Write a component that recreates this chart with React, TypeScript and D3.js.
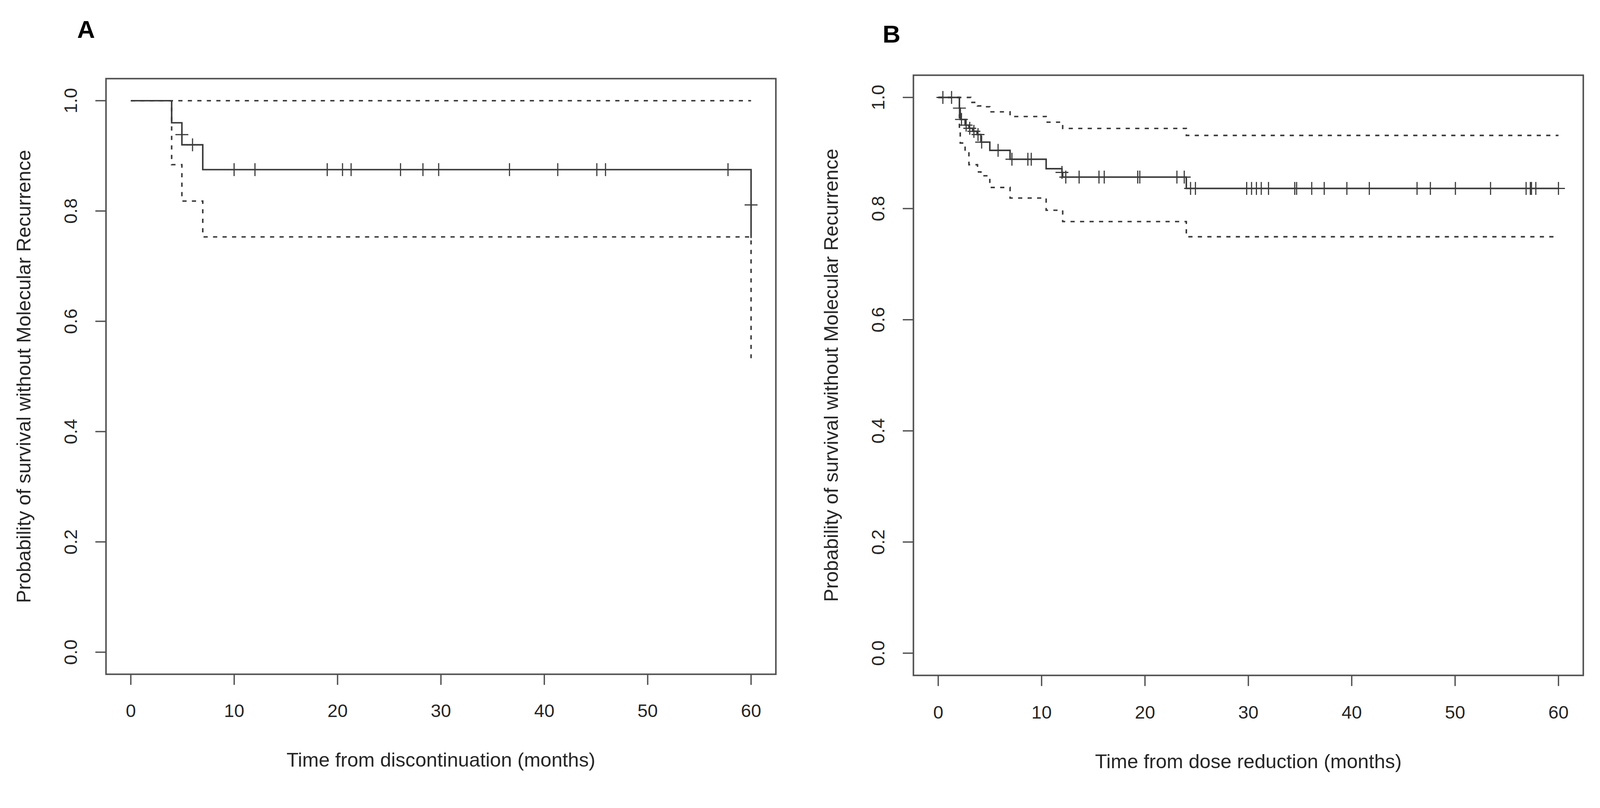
import React, { useEffect } from 'react';
import * as d3 from 'd3';

// Kaplan-Meier readings taken from the two panels
const xTicks = [0, 10, 20, 30, 40, 50, 60];
const yTicks = [0, 0.2, 0.4, 0.6, 0.8, 1.0];
const yTickLabels = ['0.0', '0.2', '0.4', '0.6', '0.8', '1.0'];

// Panel A: discontinuation
const timesA = [0, 3.95, 4.94, 6.96, 60];
const survA = [1, 0.96, 0.92, 0.875, 0.751];
const upperTimesA = [0, 60];
const upperA = [1, 1];
const lowerTimesA = [0, 3.95, 4.94, 6.96, 60];
const lowerA = [1, 0.884, 0.818, 0.753, 0.533];
const censorTimesA = [4.94, 5.97, 9.99, 12.01, 19.0, 20.48, 21.31, 26.09, 28.26, 29.78, 36.63, 41.3, 45.08, 45.92, 57.77, 60.0];
const censorSurvA = [0.9385, 0.92, 0.875, 0.875, 0.875, 0.875, 0.875, 0.875, 0.875, 0.875, 0.875, 0.875, 0.875, 0.875, 0.875, 0.811];

// Panel B: dose reduction
const timesB = [0, 2.05, 2.13, 2.6, 2.97, 3.33, 3.76, 4.13, 4.99, 6.95, 10.44, 11.97, 12.04, 24.0];
const survB = [1, 0.9808, 0.9604, 0.9502, 0.9445, 0.939, 0.9332, 0.9196, 0.9048, 0.8888, 0.8718, 0.8651, 0.8567, 0.8363];
const upperTimesB = [0, 3.15, 3.8, 4.4, 4.99, 6.95, 10.44, 12.04, 24.0];
const upperB = [1, 0.991, 0.9847, 0.9832, 0.9741, 0.9657, 0.9555, 0.9442, 0.9317];
const lowerTimesB = [0, 2.05, 2.13, 2.6, 2.97, 3.8, 4.13, 4.99, 6.95, 10.44, 12.04, 24.0];
const lowerB = [1, 0.94, 0.918, 0.902, 0.879, 0.866, 0.859, 0.838, 0.819, 0.797, 0.7766, 0.7493];
const censorTimesB = [0.45, 1.29, 2.05, 2.25, 2.7, 3.05, 3.45, 3.85, 4.2, 5.79, 7.13, 8.67, 9.0, 11.97, 12.34, 13.63,
  15.55, 16.06, 19.3, 19.5, 23.09, 23.8, 24.41, 24.88, 29.84, 30.31, 30.78, 31.25, 31.95, 34.49, 34.67, 36.13,
  37.34, 39.53, 41.7, 46.32, 47.61, 50.03, 53.43, 56.87, 57.28, 57.39, 57.81, 60.0];

const W = 4211;
const H = 2069;
const FONT = '"Liberation Sans", Arial, Helvetica, sans-serif';
const LINE = '#3a3a3a';
const BOX = '#505050';
const TEXT = '#262626';
const DASH = '11,14';

type Box = { x: number; y: number; w: number; h: number };

const stepAt = (times: number[], vals: number[], t: number) => {
  let v = vals[0];
  times.forEach((tt, i) => { if (tt <= t + 1e-9) v = vals[i]; });
  return v;
};

const toPoints = (times: number[], vals: number[], end: number): [number, number][] => {
  const pts: [number, number][] = times.map((t, i) => [t, vals[i]]);
  if (times[times.length - 1] < end) pts.push([end, vals[vals.length - 1]]);
  return pts;
};

interface PanelProps {
  box: Box;
  letter: string;
  letterPos: [number, number];
  xTitle: string;
  tickOffset: number;
  titleOffset: number;
  surv: [number[], number[]];
  upper: [number[], number[]];
  lower: [number[], number[]];
  censorT: number[];
  censorV: number[];
}

const Panel: React.FC<PanelProps> = ({ box, letter, letterPos, xTitle, tickOffset, titleOffset, surv, upper, lower, censorT, censorV }) => {
  const x = d3.scaleLinear().domain([-2.4, 62.4]).range([box.x, box.x + box.w]);
  const y = d3.scaleLinear().domain([-0.04, 1.04]).range([box.y + box.h, box.y]);
  const line = d3.line<[number, number]>()
    .x(d => x(d[0]))
    .y(d => y(d[1]))
    .curve(d3.curveStepAfter);
  const bottom = box.y + box.h;
  const tick = 28;
  const markHalf = 17;

  return (
    <g>
      <text x={letterPos[0]} y={letterPos[1]} fontFamily={FONT} fontWeight="bold" fontSize={65} fill="#000">{letter}</text>
      <rect x={box.x} y={box.y} width={box.w} height={box.h} fill="none" stroke={BOX} strokeWidth={4} />

      {xTicks.map(t => (
        <g key={'x' + t}>
          <line x1={x(t)} x2={x(t)} y1={bottom} y2={bottom + tick} stroke={BOX} strokeWidth={3.5} />
          <text x={x(t)} y={bottom + tickOffset} textAnchor="middle" fontFamily={FONT} fontSize={48} fill={TEXT}>{t}</text>
        </g>
      ))}
      {yTicks.map((v, i) => (
        <g key={'y' + v}>
          <line x1={box.x - tick} x2={box.x} y1={y(v)} y2={y(v)} stroke={BOX} strokeWidth={3.5} />
          <text x={box.x - 76} y={y(v)} transform={`rotate(-90, ${box.x - 76}, ${y(v)})`} textAnchor="middle"
            fontFamily={FONT} fontSize={48} fill={TEXT}>{yTickLabels[i]}</text>
        </g>
      ))}

      <text x={box.x + box.w / 2} y={bottom + titleOffset} textAnchor="middle" fontFamily={FONT} fontSize={52} fill={TEXT}>{xTitle}</text>
      <text x={box.x - 199} y={box.y + box.h / 2} transform={`rotate(-90, ${box.x - 199}, ${box.y + box.h / 2})`}
        textAnchor="middle" fontFamily={FONT} fontSize={52} fill={TEXT}>
        Probability of survival without Molecular Recurrence
      </text>

      <path d={line(toPoints(upper[0], upper[1], 60)) ?? ''} fill="none" stroke={LINE} strokeWidth={4} strokeDasharray={DASH} />
      <path d={line(toPoints(lower[0], lower[1], 60)) ?? ''} fill="none" stroke={LINE} strokeWidth={4} strokeDasharray={DASH} />
      <path d={line(toPoints(surv[0], surv[1], 60)) ?? ''} fill="none" stroke={LINE} strokeWidth={4} />

      {censorT.map((t, i) => {
        const cx = x(t);
        const cy = y(censorV[i]);
        return (
          <g key={'c' + i} stroke={LINE} strokeWidth={3}>
            <line x1={cx - markHalf} x2={cx + markHalf} y1={cy} y2={cy} />
            <line x1={cx} x2={cx} y1={cy - markHalf} y2={cy + markHalf} />
          </g>
        );
      })}
    </g>
  );
};

export default function App() {
  useEffect(() => {
    document.body.style.margin = '0';
    document.body.style.overflow = 'hidden';
  }, []);

  const boxA: Box = { x: 279, y: 207, w: 1763, h: 1568 };
  const boxB: Box = { x: 2404, y: 198, w: 1763, h: 1580 };
  const censorSurvB = censorTimesB.map(t => stepAt(timesB, survB, t));

  return (
    <svg viewBox={`0 0 ${W} ${H}`} preserveAspectRatio="xMinYMin meet"
      style={{ position: 'fixed', left: 0, top: 0, width: '100vw', height: '100vh', display: 'block', background: '#fff' }}>
      <rect x={0} y={0} width={W} height={H} fill="#fff" />
      <Panel box={boxA} letter="A" letterPos={[203, 100]} xTitle="Time from discontinuation (months)"
        tickOffset={113} titleOffset={243}
        surv={[timesA, survA]} upper={[upperTimesA, upperA]} lower={[lowerTimesA, lowerA]}
        censorT={censorTimesA} censorV={censorSurvA} />
      <Panel box={boxB} letter="B" letterPos={[2323, 112]} xTitle="Time from dose reduction (months)"
        tickOffset={114} titleOffset={244}
        surv={[timesB, survB]} upper={[upperTimesB, upperB]} lower={[lowerTimesB, lowerB]}
        censorT={censorTimesB} censorV={censorSurvB} />
    </svg>
  );
}
